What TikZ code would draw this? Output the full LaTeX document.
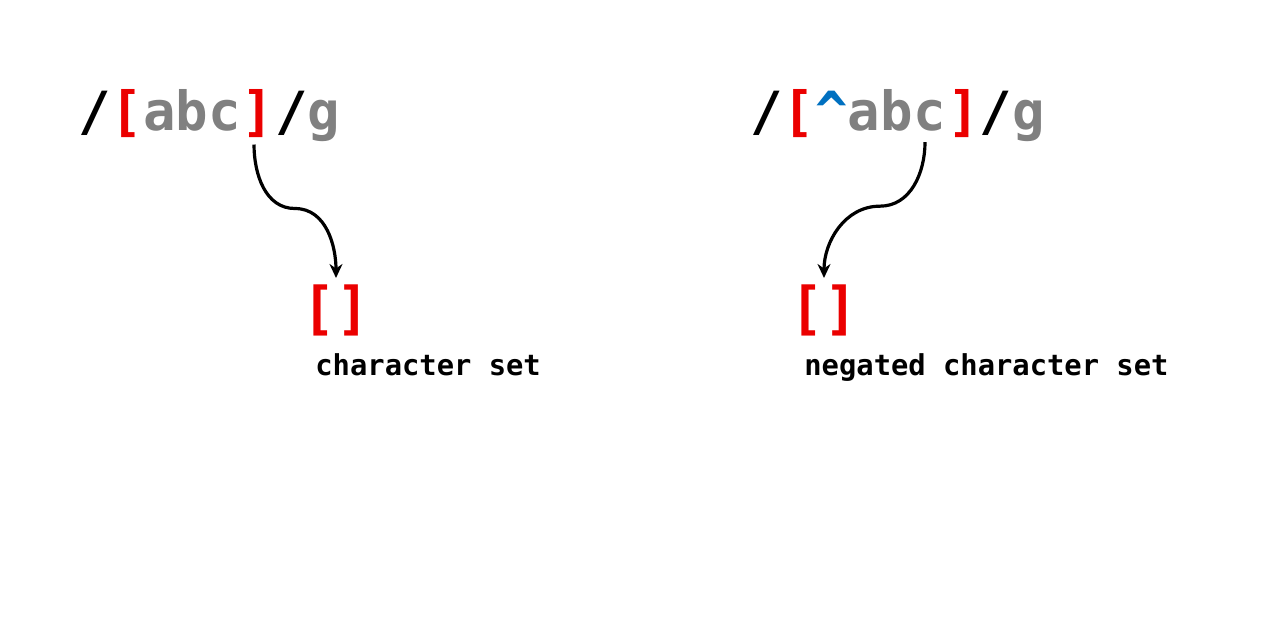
\documentclass[tikz,border=0pt]{standalone}
\usepackage{fontspec}
\setmonofont{DejaVu Sans Mono}
\usetikzlibrary{arrows.meta}
\definecolor{setred}{RGB}{235,0,0}
\definecolor{litgray}{RGB}{128,128,128}
\definecolor{caretblue}{RGB}{0,112,192}
\begin{document}
\begin{tikzpicture}[x=0.5pt,y=0.5pt,
  code/.style={inner sep=0pt,anchor=base west,font=\ttfamily\bfseries\fontsize{27pt}{30pt}\selectfont},
  brk/.style={inner sep=0pt,text=setred,font=\ttfamily\bfseries\fontsize{23pt}{26pt}\selectfont},
  lbl/.style={inner sep=0pt,anchor=base west,font=\ttfamily\bfseries\fontsize{14.4pt}{17pt}\selectfont},
  arr/.style={line width=1.6pt,-{Stealth[length=7pt,width=6.5pt]}}]
  \useasboundingbox (0,0) rectangle (1286,628);

  \node[code] (lopen) at (78,497) {/\textcolor{setred}{[}\textcolor{litgray}{abc}};
  \node[code] (lclose) at (lopen.base east) {\textcolor{setred}{]}};
  \node[code] (lflag) at (lclose.base east) {/\textcolor{litgray}{g}};
  \node[brk] (lset) at (336,318) {\scalebox{1.2}[1.25]{[]}};
  \node[lbl] (llbl) at (315,253) {character set};

  \node[code] (ropen) at (750,497) {/\textcolor{setred}{[}\textcolor{caretblue}{\^{}}\textcolor{litgray}{ab}};
  \node[code] (rchar) at (ropen.base east) {\textcolor{litgray}{c}};
  \node[code] (rflag) at (rchar.base east) {\textcolor{setred}{]}/\textcolor{litgray}{g}};
  \node[brk] (rset) at (824,318) {\scalebox{1.2}[1.25]{[]}};
  \node[lbl] (rlbl) at (804,253) {negated character set};

  \draw[arr] ([xshift=-2pt,yshift=-3pt]lclose.south) to[out=-90,in=180] ++(41,-64) to[out=0,in=90] ([yshift=3pt]lset.north);
  \draw[arr] ([xshift=-2.5pt,yshift=-5pt]rchar.south) to[out=-90,in=0] ++(-45,-64) to[out=180,in=90] ([yshift=3pt]rset.north);
\end{tikzpicture}
\end{document}
